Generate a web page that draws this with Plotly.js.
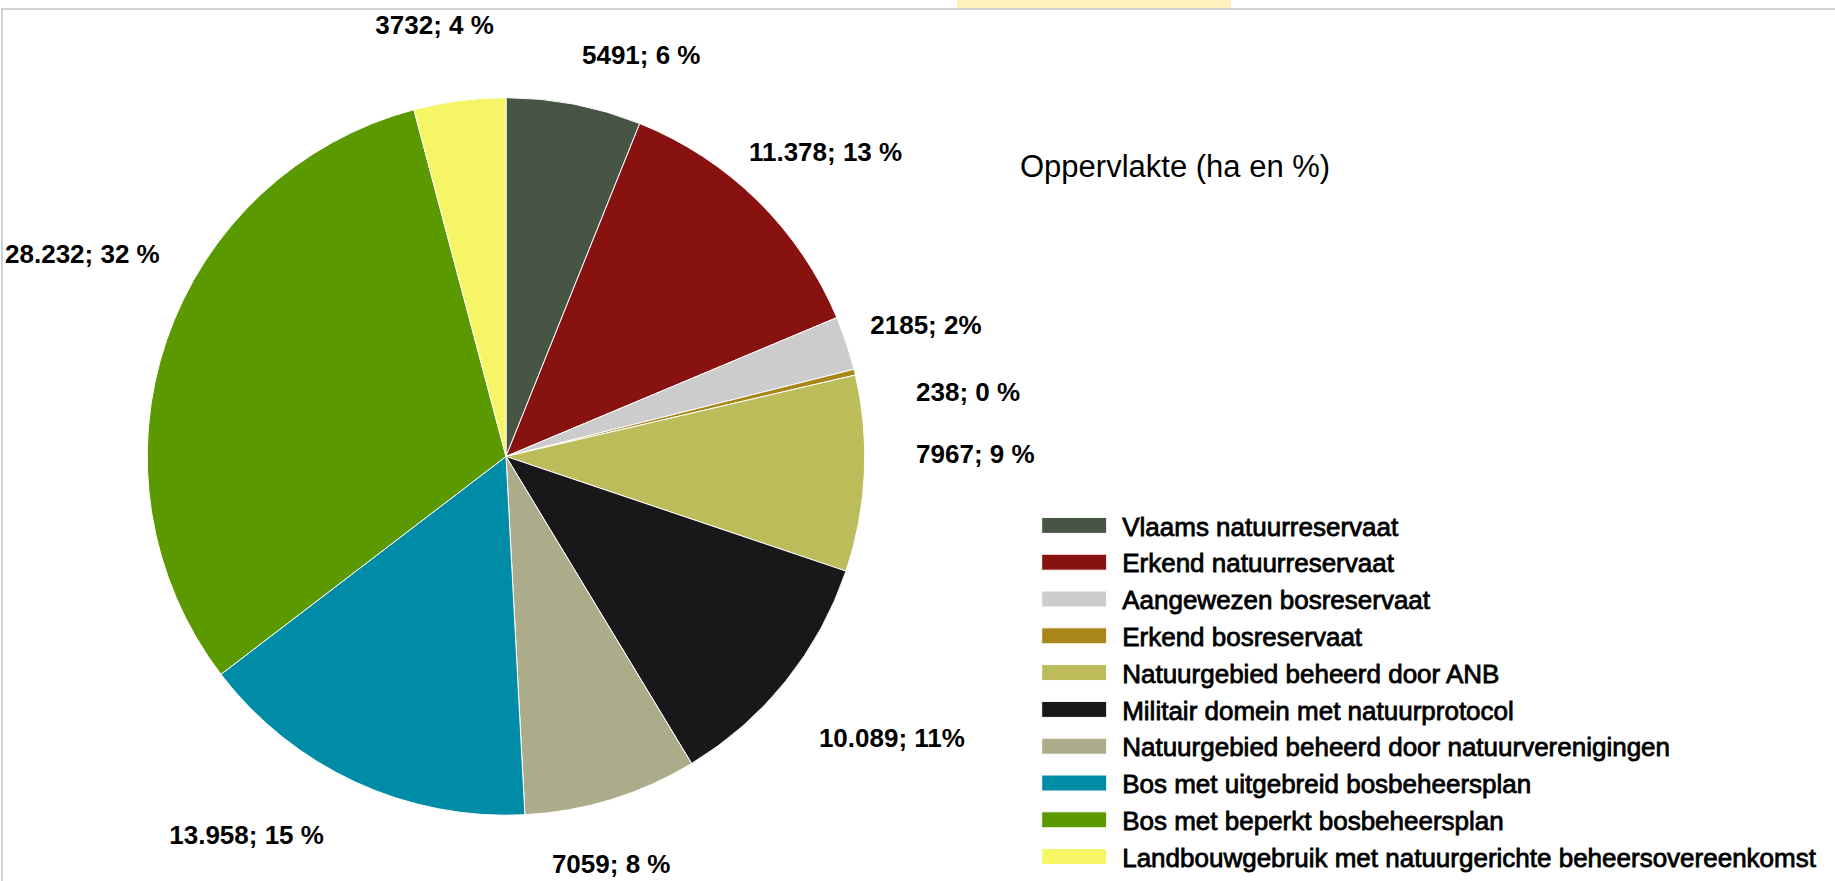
<!DOCTYPE html>
<html>
<head>
<meta charset="utf-8">
<script src="https://cdn.plot.ly/plotly-3.0.1.min.js"></script>
<style>
  html, body { margin: 0; padding: 0; background: #ffffff; overflow: hidden; }
  #chart { width: 1835px; height: 881px; overflow: hidden; }
  #chart text.legendtext { stroke: #000000 !important; stroke-width: 0.8px !important; }
</style>
</head>
<body>
<div id="chart"></div>
<script>
// ---- data ----
const categories = [
  "Vlaams natuurreservaat",
  "Erkend natuurreservaat",
  "Aangewezen bosreservaat",
  "Erkend bosreservaat",
  "Natuurgebied beheerd door ANB",
  "Militair domein met natuurprotocol",
  "Natuurgebied beheerd door natuurverenigingen",
  "Bos met uitgebreid bosbeheersplan",
  "Bos met beperkt bosbeheersplan",
  "Landbouwgebruik met natuurgerichte beheersovereenkomst"
];
const areaHa = [5491, 11378, 2185, 238, 7967, 10089, 7059, 13958, 28232, 3732];
const labelTexts = [
  "5491; 6 %", "11.378; 13 %", "2185; 2%", "238; 0 %", "7967; 9 %",
  "10.089; 11%", "7059; 8 %", "13.958; 15 %", "28.232; 32 %", "3732; 4 %"
];
const chartTitle = "Oppervlakte (ha en %)";

// ---- style ----
const sliceColors = [
  "#465544", "#88120f", "#cccccc", "#a8861a", "#bdbc5a",
  "#18181a", "#acac8a", "#008ca6", "#5a9a00", "#f5f566"
];
// per-label placement tweaks (label ring radius in px, angular nudge in degrees)
const labelRadius = [394, 379, 381, 409, 404, 412, 396, 407, 394, 418];
const labelNudge  = [-0.9, -6.0, -1.6, 4.6, -3.1, 3.2, 11.5, 0.7, 11.5, 6.8];

const W = 1835, H = 881;
const cx = 506, cy = 458, R = 360;
function dom(r) {
  return {
    x: [(cx - r) / W, (cx + r) / W],
    y: [(H - cy - r) / H, (H - cy + r) / H]
  };
}

const FONT = "Liberation Sans, Arial, sans-serif";

const mainPie = {
  type: "pie",
  name: "Oppervlakte",
  labels: categories,
  values: areaHa,
  sort: false,
  direction: "clockwise",
  rotation: 0,
  marker: { colors: sliceColors, line: { color: "#ffffff", width: 1 } },
  textinfo: "none",
  hoverinfo: "label+value+percent",
  domain: dom(R),
  showlegend: true
};

// invisible rings that carry the outside value labels
const labelPies = labelTexts.map(function (t, i) {
  return {
    type: "pie",
    labels: categories,
    values: areaHa,
    sort: false,
    direction: "clockwise",
    rotation: labelNudge[i],
    marker: { colors: categories.map(() => "rgba(0,0,0,0)"), line: { width: 0 } },
    text: labelTexts.map((s, j) => (j === i ? s : "")),
    textinfo: "text",
    texttemplate: "%{text}",
    textposition: "outside",
    outsidetextfont: { family: FONT, size: 26, color: "#000000", weight: "bold" },
    hoverinfo: "skip",
    domain: dom(labelRadius[i]),
    showlegend: false
  };
});

const layout = {
  width: W,
  height: H,
  margin: { l: 0, r: 0, t: 0, b: 0 },
  paper_bgcolor: "#ffffff",
  plot_bgcolor: "#ffffff",
  font: { family: FONT, color: "#000000" },
  title: {
    text: chartTitle,
    font: { family: FONT, size: 31, color: "#000000" },
    xref: "paper", yref: "paper",
    x: 1020 / W, xanchor: "left",
    y: (H - 167) / H, yanchor: "middle"
  },
  legend: {
    x: 0.5625, xanchor: "left",
    y: (H - 504) / H, yanchor: "top",
    font: { family: FONT, size: 26, color: "#000000" },
    itemwidth: 80,
    bgcolor: "rgba(0,0,0,0)",
    borderwidth: 0,
    traceorder: "normal"
  },
  shapes: [
    { type: "rect", xref: "paper", yref: "paper", layer: "below",
      x0: 957 / W, x1: 1231 / W, y0: (H - 9) / H, y1: 1,
      fillcolor: "rgba(255,238,170,0.75)", line: { width: 0 } },
    { type: "rect", xref: "paper", yref: "paper", layer: "below",
      x0: 2 / W, x1: 1.01, y0: -0.01, y1: (H - 9) / H,
      fillcolor: "rgba(0,0,0,0)", line: { color: "#c4c4c4", width: 1.5 } }
  ]
};

Plotly.newPlot("chart", [mainPie].concat(labelPies), layout, { displayModeBar: false, staticPlot: true }).then(function () {
  // widen the legend swatches to the wide rectangles of the reference
  document.querySelectorAll("#chart .legend path.legendpie").forEach(function (p) {
    p.setAttribute("d", "M-32.5,8H32.5V-8H-32.5Z");
    p.setAttribute("transform", "translate(42,0)");
  });
  document.querySelectorAll("#chart text.legendtext").forEach(function (t) {
    t.style.stroke = "#000000";
    t.style.strokeWidth = "0.8px";
  });
});
</script>
</body>
</html>
